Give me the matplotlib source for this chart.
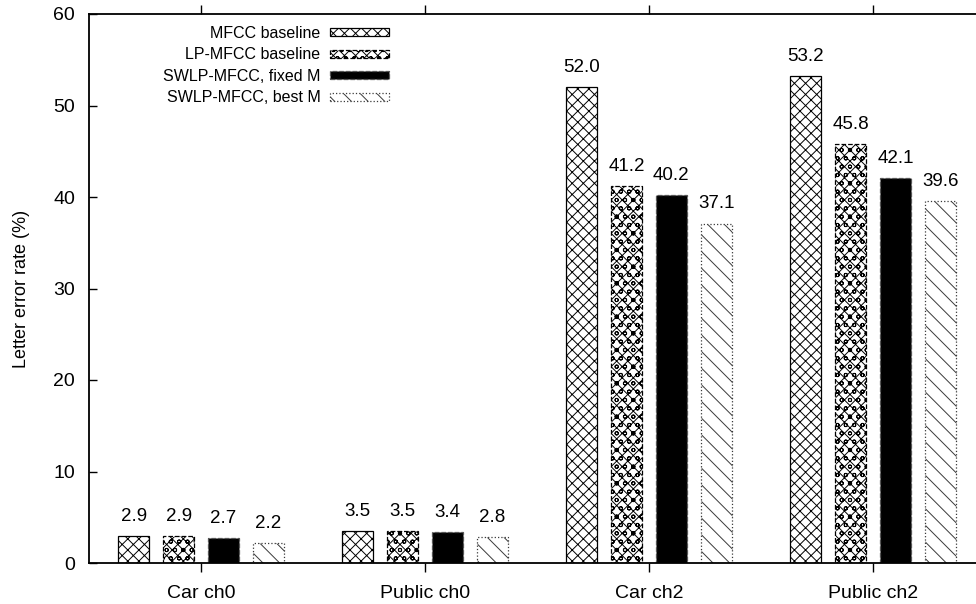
import numpy as np
import matplotlib
matplotlib.use("Agg")
import matplotlib.pyplot as plt

# letter error rates (%) per test condition
conditions = ["Car ch0", "Public ch0", "Car ch2", "Public ch2"]
mfcc_base = [2.9, 3.5, 52.0, 53.2]
lp_mfcc_base = [2.9, 3.5, 41.2, 45.8]
swlp_fixed = [2.7, 3.4, 40.2, 42.1]
swlp_best = [2.2, 2.8, 37.1, 39.6]
series_names = ["MFCC baseline", "LP-MFCC baseline",
                "SWLP-MFCC, fixed M", "SWLP-MFCC, best M"]

plt.rcParams['font.family'] = ['Liberation Sans', 'DejaVu Sans']
plt.rcParams['font.size'] = 14
plt.rcParams['hatch.linewidth'] = 0.7

fig = plt.figure(figsize=(9.76, 6.04), dpi=100)
ax = fig.add_axes([89 / 976, 41 / 604, 896 / 976, 549 / 604])

x = np.arange(1, len(conditions) + 1)
width = 0.14
offsets = [-0.3, -0.1, 0.1, 0.3]
styles = [
    dict(facecolor='white', edgecolor='black', hatch='xxx', linestyle='-'),
    dict(facecolor='white', edgecolor='black', hatch='xxxoo', linestyle='--'),
    dict(facecolor='black', edgecolor='#555555', hatch=None, linestyle='--'),
    dict(facecolor='white', edgecolor='#3a3a3a', hatch='\\\\', linestyle=':'),
]

for vals, name, off, st in zip([mfcc_base, lp_mfcc_base, swlp_fixed, swlp_best],
                               series_names, offsets, styles):
    bars = ax.bar(x + off, vals, width, label=name, linewidth=0.9, **st)
    for b, v in zip(bars, vals):
        ax.annotate(f"{v:.1f}", (b.get_x() + b.get_width() / 2, v),
                    xytext=(0, 8), textcoords='offset points',
                    ha='center', va='bottom', fontsize=13.5)

ax.set_xlim(0.5, 4.5)
ax.set_ylim(0, 60)
ax.set_yticks(range(0, 61, 10))
ax.set_xticks(x)
ax.set_xticklabels(conditions)
ax.set_ylabel("Letter error rate (%)", fontsize=13, labelpad=17)

for s in ax.spines.values():
    s.set_linewidth(1.3)
ax.tick_params(axis='y', direction='in', right=True, length=6, width=1, pad=10)
ax.tick_params(axis='x', direction='out', top=True, length=6.5, width=1, pad=9)

ax.legend(loc='upper right', bbox_to_anchor=(0.335, 0.978), frameon=False,
          markerfirst=False, borderpad=0, borderaxespad=0,
          handlelength=3.7, handleheight=0.4, handletextpad=0.6,
          labelspacing=0.4, fontsize=11.5)

fig.savefig("out.png", dpi=100)
